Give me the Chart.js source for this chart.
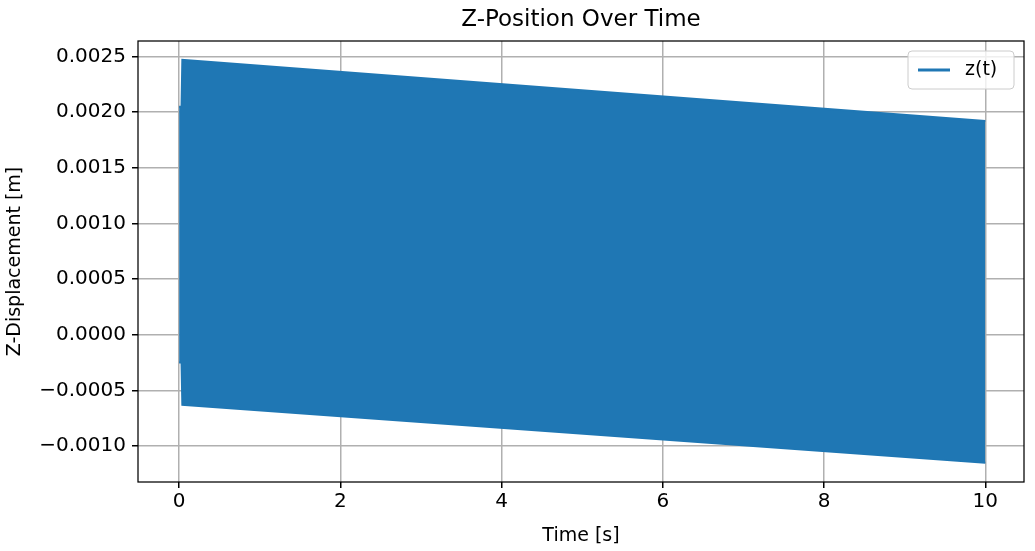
<!DOCTYPE html>
<html>
<head>
<meta charset="utf-8">
<script src="https://cdn.jsdelivr.net/npm/chart.js@4"></script>
<style>
  body { margin: 0; background: #fff; }
  #wrap { width: 1035px; height: 551px; }
</style>
</head>
<body>
<div id="wrap"><canvas id="zChart"></canvas></div>
<script>
// 진동 신호의 위/아래 포락선
const upperTime = [0, 0.03, 0.04, 10];
const upperZ = [0.00205, 0.00205, 0.00247, 0.00192];
const lowerTime = [0, 0.03, 0.04, 10];
const lowerZ = [-0.00025, -0.00025, -0.00063, -0.00115];

const xTicks = [0, 2, 4, 6, 8, 10];
const yTicks = [-0.0010, -0.0005, 0.0000, 0.0005, 0.0010, 0.0015, 0.0020, 0.0025];

const blue = '#1f77b4';
const font = "'DejaVu Sans', sans-serif";

function toPoints(ts, vs) {
    return ts.map((t, i) => ({ x: t, y: vs[i] }));
}

// 제목, 테두리, 범례 그리기
const decoPlugin = {
    id: 'deco',
    afterDraw(chart) {
        const ctx = chart.ctx;
        const a = chart.chartArea;
        ctx.save();
        ctx.strokeStyle = '#000';
        ctx.lineWidth = 1.25;
        ctx.strokeRect(a.left, a.top, a.right - a.left, a.bottom - a.top);

        ctx.fillStyle = '#000';
        ctx.font = '23px ' + font;
        ctx.textAlign = 'center';
        ctx.textBaseline = 'middle';
        ctx.fillText('Z-Position Over Time', (a.left + a.right) / 2, 20);

        // 범례
        const bx = a.right - 116, by = a.top + 10, bw = 106, bh = 38;
        ctx.fillStyle = 'rgba(255,255,255,0.8)';
        ctx.strokeStyle = '#ccc';
        ctx.lineWidth = 1;
        ctx.beginPath();
        ctx.roundRect(bx, by, bw, bh, 4);
        ctx.fill();
        ctx.stroke();
        ctx.strokeStyle = blue;
        ctx.lineWidth = 3;
        ctx.beginPath();
        ctx.moveTo(bx + 10, by + bh / 2);
        ctx.lineTo(bx + 42, by + bh / 2);
        ctx.stroke();
        ctx.fillStyle = '#000';
        ctx.font = '19px ' + font;
        ctx.textAlign = 'left';
        ctx.fillText('z(t)', bx + 57, by + bh / 2);
        ctx.restore();
    }
};

new Chart(document.getElementById('zChart'), {
    type: 'line',
    data: {
        datasets: [{
            label: 'z(t)',
            data: toPoints(upperTime, upperZ),
            borderColor: blue,
            backgroundColor: blue,
            borderWidth: 2,
            pointRadius: 0,
            fill: 1
        }, {
            label: 'lower',
            data: toPoints(lowerTime, lowerZ),
            borderColor: blue,
            backgroundColor: blue,
            borderWidth: 2,
            pointRadius: 0,
            fill: false
        }]
    },
    options: {
        responsive: true,
        maintainAspectRatio: false,
        animation: false,
        layout: { padding: { top: 41, right: 11, left: 0, bottom: 0 } },
        plugins: { legend: { display: false }, tooltip: { enabled: false } },
        scales: {
            x: {
                type: 'linear',
                min: -0.51,
                max: 10.48,
                afterBuildTicks: s => { s.ticks = xTicks.map(v => ({ value: v })); },
                afterFit: s => { s.height = 69; },
                grid: { color: '#b0b0b0', lineWidth: 1.5, tickColor: '#000', tickLength: 6 },
                border: { display: false },
                ticks: { color: '#000', font: { family: font, size: 20 }, padding: 2, maxRotation: 0,
                         callback: v => String(v) },
                title: { display: true, text: 'Time [s]', color: '#000', font: { family: font, size: 19 }, padding: { top: 0 } }
            },
            y: {
                min: -0.001324,
                max: 0.00264,
                afterBuildTicks: s => { s.ticks = yTicks.map(v => ({ value: v })); },
                afterFit: s => { s.width = 138; },
                grid: { color: '#b0b0b0', lineWidth: 1.5, tickColor: '#000', tickLength: 6 },
                border: { display: false },
                ticks: { color: '#000', font: { family: font, size: 20 }, padding: 6,
                         callback: v => (v < 0 ? '\u2212' : '') + Math.abs(v).toFixed(4) },
                title: { display: true, text: 'Z-Displacement [m]', color: '#000', font: { family: font, size: 19 }, padding: { bottom: 0 } }
            }
        }
    },
    plugins: [decoPlugin]
});
</script>
</body>
</html>
